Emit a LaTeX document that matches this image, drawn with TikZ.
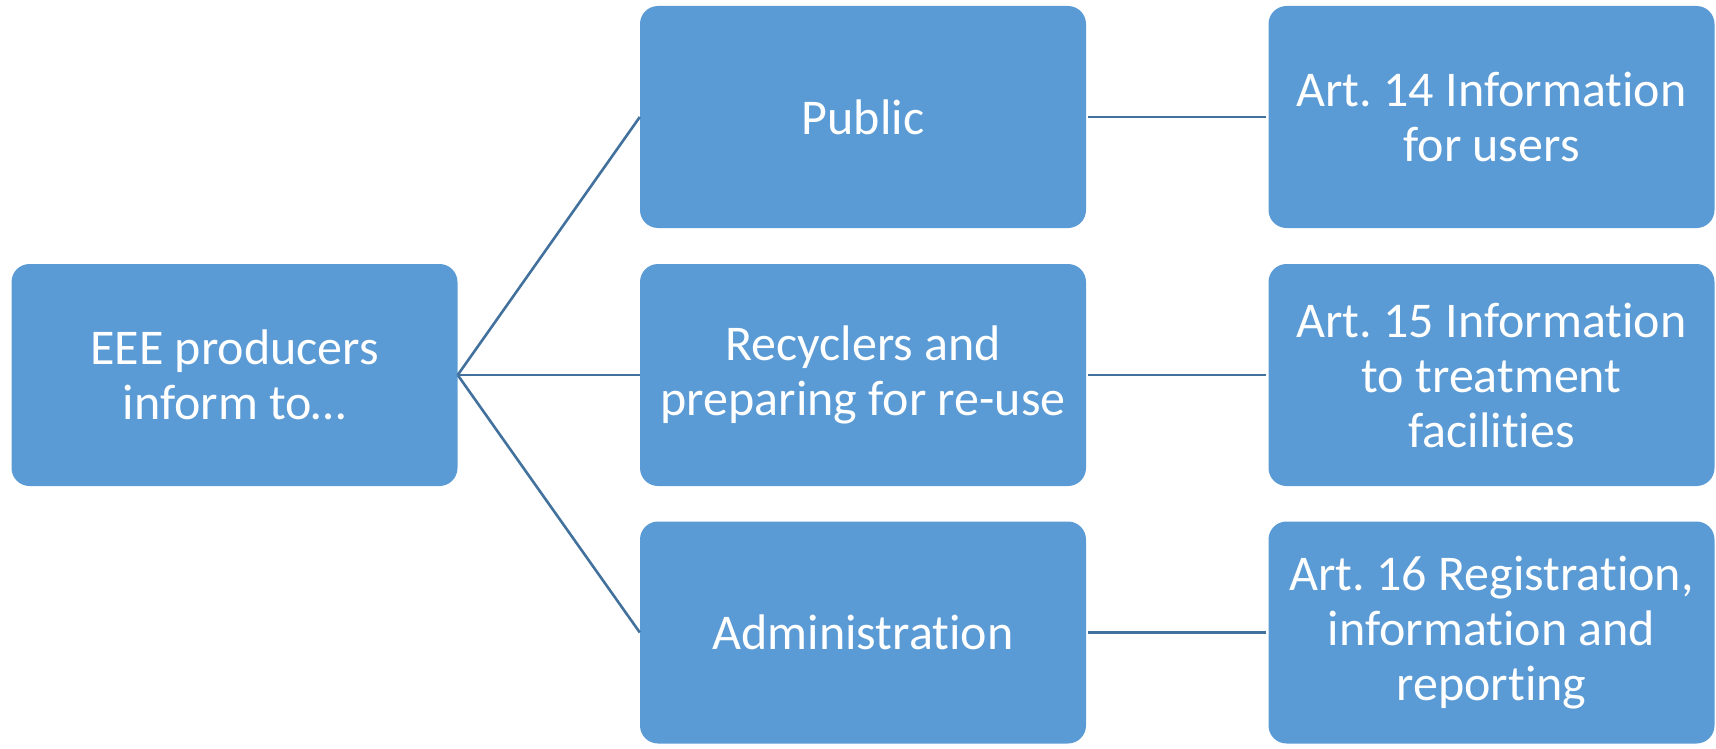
\documentclass[tikz,border=0pt]{standalone}
\usepackage{fontspec}
\setmainfont[Ligatures=NoCommon]{Carlito}
\frenchspacing
\definecolor{boxblue}{HTML}{5B9BD5}
\definecolor{linkblue}{HTML}{41719C}
\tikzset{
  card/.style={fill=boxblue, draw=none, rounded corners=18pt,
    minimum width=446pt, minimum height=222pt, inner sep=0pt,
    text=white, align=center,
    font=\fontsize{50pt}{55pt}\selectfont},
  link/.style={draw=linkblue, line width=2.6pt}
}
\begin{document}
\begin{tikzpicture}[x=1pt,y=-1pt]
  \useasboundingbox (0,0) rectangle (1716,749);
  % root
  \node[card] (root) at (234.5,375) {EEE producers\\inform to…};
  % audiences
  \node[card] (pub) at (863,117) {Public};
  \node[card] (rec) at (863,375) {Recyclers and\\preparing for re-use};
  \node[card] (adm) at (863,632.5) {Administration};
  % articles
  \node[card] (a14) at (1491.5,117) {Art. 14 Information\\for users};
  \node[card] (a15) at (1491.5,375) {Art. 15 Information\\to treatment\\facilities};
  \node[card] (a16) at (1491.5,632.5) {Art. 16 Registration,\\information and\\reporting};
  % connectors
  \draw[link] (root.east) -- (pub.west);
  \draw[link] (root.east) -- (rec.west);
  \draw[link] (root.east) -- (adm.west);
  \draw[link] ([xshift=2pt]pub.east) -- ([xshift=-2pt]a14.west);
  \draw[link] ([xshift=2pt]rec.east) -- ([xshift=-2pt]a15.west);
  \draw[link] ([xshift=2pt]adm.east) -- ([xshift=-2pt]a16.west);
\end{tikzpicture}
\end{document}
